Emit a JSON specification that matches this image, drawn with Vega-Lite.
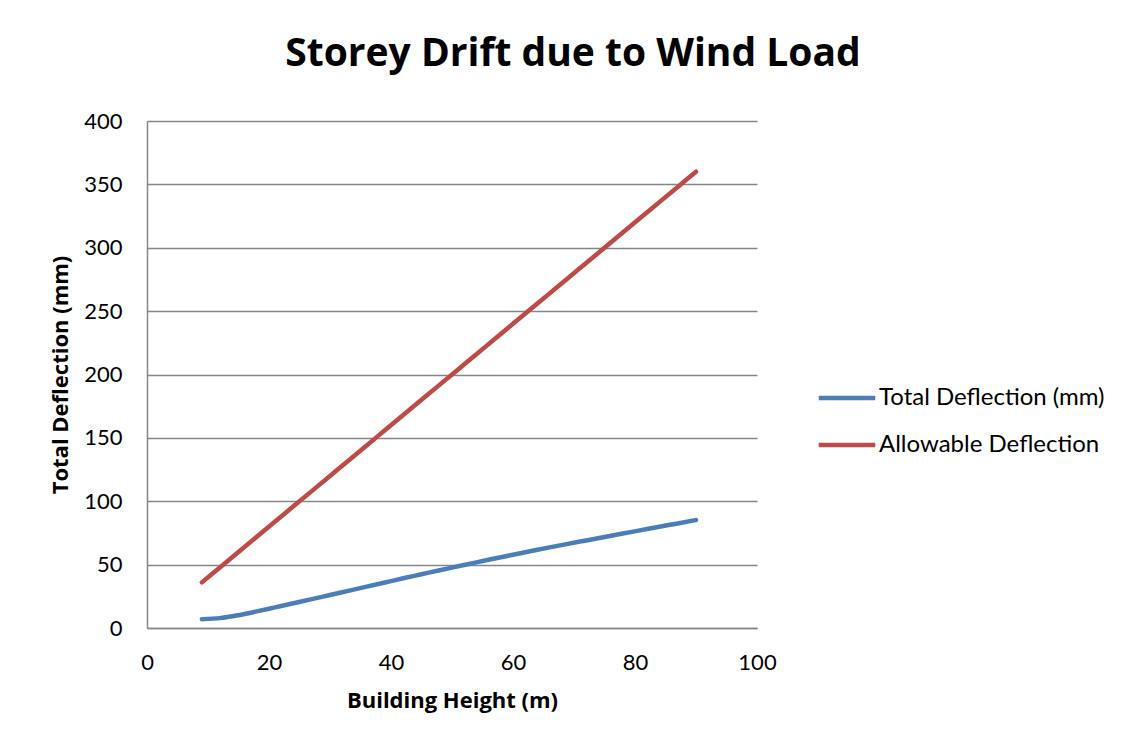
{
  "$schema": "https://vega.github.io/schema/vega-lite/v6.json",
  "width": 610,
  "height": 507,
  "autosize": {"type": "none"},
  "padding": {"left": 147, "top": 121, "right": 380, "bottom": 119},
  "background": "white",
  "title": {
    "text": "Storey Drift due to Wind Load",
    "font": "Open Sans",
    "fontSize": 39,
    "fontWeight": "bold",
    "color": "#000000",
    "anchor": "middle",
    "frame": "group",
    "dx": 121,
    "offset": 36
  },
  "data": {
    "values": [
      {"h": 9, "series": "Total Deflection (mm)", "d": 7.0},
      {"h": 12, "series": "Total Deflection (mm)", "d": 7.8},
      {"h": 15, "series": "Total Deflection (mm)", "d": 10.1},
      {"h": 18, "series": "Total Deflection (mm)", "d": 13.1},
      {"h": 21, "series": "Total Deflection (mm)", "d": 16.3},
      {"h": 24, "series": "Total Deflection (mm)", "d": 19.5},
      {"h": 27, "series": "Total Deflection (mm)", "d": 22.8},
      {"h": 30, "series": "Total Deflection (mm)", "d": 26.0},
      {"h": 33, "series": "Total Deflection (mm)", "d": 29.3},
      {"h": 36, "series": "Total Deflection (mm)", "d": 32.6},
      {"h": 39, "series": "Total Deflection (mm)", "d": 35.9},
      {"h": 42, "series": "Total Deflection (mm)", "d": 39.2},
      {"h": 45, "series": "Total Deflection (mm)", "d": 42.4},
      {"h": 48, "series": "Total Deflection (mm)", "d": 45.6},
      {"h": 51, "series": "Total Deflection (mm)", "d": 48.7},
      {"h": 54, "series": "Total Deflection (mm)", "d": 51.8},
      {"h": 57, "series": "Total Deflection (mm)", "d": 54.8},
      {"h": 60, "series": "Total Deflection (mm)", "d": 57.8},
      {"h": 63, "series": "Total Deflection (mm)", "d": 60.7},
      {"h": 66, "series": "Total Deflection (mm)", "d": 63.6},
      {"h": 69, "series": "Total Deflection (mm)", "d": 66.4},
      {"h": 72, "series": "Total Deflection (mm)", "d": 69.1},
      {"h": 75, "series": "Total Deflection (mm)", "d": 71.8},
      {"h": 78, "series": "Total Deflection (mm)", "d": 74.5},
      {"h": 81, "series": "Total Deflection (mm)", "d": 77.2},
      {"h": 84, "series": "Total Deflection (mm)", "d": 79.9},
      {"h": 87, "series": "Total Deflection (mm)", "d": 82.5},
      {"h": 90, "series": "Total Deflection (mm)", "d": 85.2},
      {"h": 9, "series": "Allowable Deflection", "d": 36},
      {"h": 12, "series": "Allowable Deflection", "d": 48},
      {"h": 15, "series": "Allowable Deflection", "d": 60},
      {"h": 18, "series": "Allowable Deflection", "d": 72},
      {"h": 21, "series": "Allowable Deflection", "d": 84},
      {"h": 24, "series": "Allowable Deflection", "d": 96},
      {"h": 27, "series": "Allowable Deflection", "d": 108},
      {"h": 30, "series": "Allowable Deflection", "d": 120},
      {"h": 33, "series": "Allowable Deflection", "d": 132},
      {"h": 36, "series": "Allowable Deflection", "d": 144},
      {"h": 39, "series": "Allowable Deflection", "d": 156},
      {"h": 42, "series": "Allowable Deflection", "d": 168},
      {"h": 45, "series": "Allowable Deflection", "d": 180},
      {"h": 48, "series": "Allowable Deflection", "d": 192},
      {"h": 51, "series": "Allowable Deflection", "d": 204},
      {"h": 54, "series": "Allowable Deflection", "d": 216},
      {"h": 57, "series": "Allowable Deflection", "d": 228},
      {"h": 60, "series": "Allowable Deflection", "d": 240},
      {"h": 63, "series": "Allowable Deflection", "d": 252},
      {"h": 66, "series": "Allowable Deflection", "d": 264},
      {"h": 69, "series": "Allowable Deflection", "d": 276},
      {"h": 72, "series": "Allowable Deflection", "d": 288},
      {"h": 75, "series": "Allowable Deflection", "d": 300},
      {"h": 78, "series": "Allowable Deflection", "d": 312},
      {"h": 81, "series": "Allowable Deflection", "d": 324},
      {"h": 84, "series": "Allowable Deflection", "d": 336},
      {"h": 87, "series": "Allowable Deflection", "d": 348},
      {"h": 90, "series": "Allowable Deflection", "d": 360}
    ]
  },
  "mark": {"type": "line", "strokeWidth": 4.5, "strokeCap": "round", "interpolate": "monotone"},
  "encoding": {
    "x": {
      "field": "h",
      "type": "quantitative",
      "scale": {"domain": [0, 100], "nice": false},
      "axis": {
        "title": "Building Height (m)",
        "values": [0, 20, 40, 60, 80, 100],
        "grid": false,
        "ticks": false,
        "domainColor": "#868686",
        "domainWidth": 1.5,
        "labelFont": "Lato",
        "labelFontSize": 22,
        "labelColor": "#000000",
        "labelPadding": 24,
        "labelFlush": false,
        "titleFont": "Open Sans",
        "titleFontSize": 22,
        "titleFontWeight": "bold",
        "titleColor": "#000000",
        "titlePadding": 17
      }
    },
    "y": {
      "field": "d",
      "type": "quantitative",
      "scale": {"domain": [0, 400], "nice": false},
      "axis": {
        "title": "Total Deflection (mm)",
        "values": [0, 50, 100, 150, 200, 250, 300, 350, 400],
        "grid": true,
        "gridColor": "#868686",
        "gridWidth": 1.5,
        "ticks": false,
        "domainColor": "#868686",
        "domainWidth": 1.5,
        "labelFont": "Lato",
        "labelFontSize": 22,
        "labelColor": "#000000",
        "labelPadding": 25,
        "labelFlush": false,
        "titleFont": "Open Sans",
        "titleFontSize": 22,
        "titleFontWeight": "bold",
        "titleColor": "#000000",
        "titlePadding": 11
      }
    },
    "color": {
      "field": "series",
      "type": "nominal",
      "scale": {
        "domain": ["Total Deflection (mm)", "Allowable Deflection"],
        "range": ["#4a7ebb", "#be4b48"]
      },
      "legend": {
        "title": null,
        "orient": "none",
        "legendX": 669,
        "legendY": 246,
        "symbolType": "stroke",
        "symbolStrokeWidth": 4.5,
        "symbolSize": 3200,
        "labelFont": "Lato",
        "labelFontSize": 24,
        "labelLimit": 400,
        "labelColor": "#000000",
        "labelOffset": 1,
        "rowPadding": 4
      }
    }
  },
  "config": {
    "view": {"stroke": null}
  }
}
